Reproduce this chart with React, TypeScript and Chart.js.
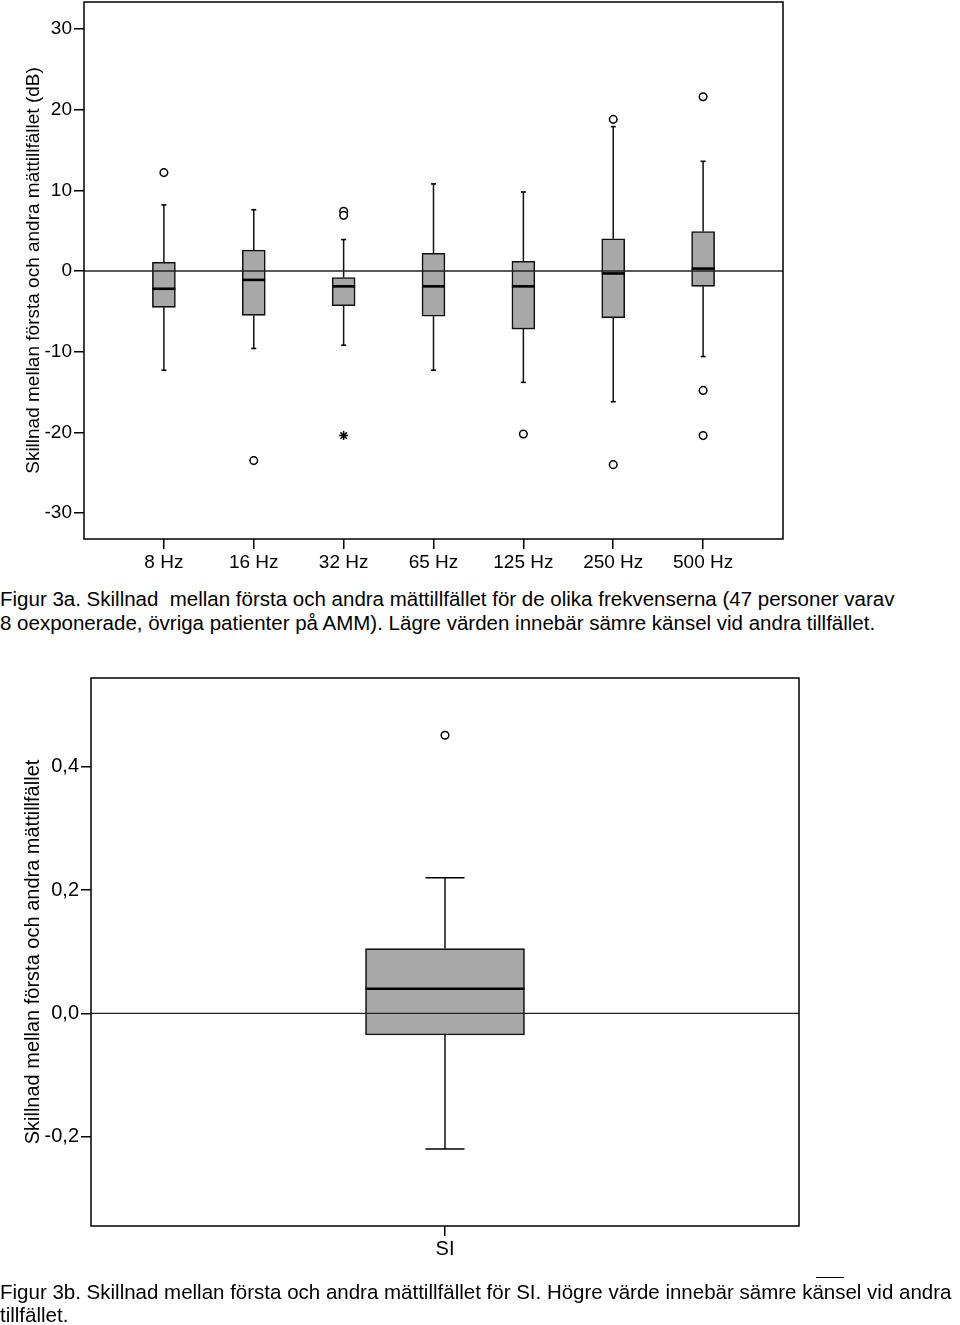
import React, { useEffect, useRef } from "react";
import { Chart, registerables } from "chart.js";

Chart.register(...registerables);

const FONT = '"Liberation Sans", Arial, Helvetica, sans-serif';

// ---------- Figure 3a data ----------
const freqCategories = ["8 Hz", "16 Hz", "32 Hz", "65 Hz", "125 Hz", "250 Hz", "500 Hz"];
const freqWhiskerLow = [-12.3, -9.6, -9.2, -12.3, -13.8, -16.2, -10.6];
const freqQ1 = [-4.5, -5.5, -4.3, -5.6, -7.2, -5.8, -1.9];
const freqMedian = [-2.2, -1.1, -1.9, -1.9, -1.9, -0.3, 0.3];
const freqQ3 = [1.1, 2.6, -0.8, 2.2, 1.2, 4.0, 4.9];
const freqWhiskerHigh = [8.2, 7.6, 3.9, 10.8, 9.8, 17.9, 13.6];
const freqOutlierCat = [0, 1, 2, 2, 4, 5, 5, 6, 6, 6];
const freqOutlierVal = [12.2, -23.5, 7.4, 6.9, -20.2, 18.8, -24.0, 21.6, -14.8, -20.4];
const freqExtremeCat = [2];
const freqExtremeVal = [-20.4];
const freqYTicks = [30, 20, 10, 0, -10, -20, -30];
const freqYTickLabels = ["30", "20", "10", "0", "-10", "-20", "-30"];
const freqYTitle = "Skillnad mellan första och andra mättillfället (dB)";

// ---------- Figure 3b data ----------
const siCategories = ["SI"];
const siWhiskerLow = [-0.22];
const siQ1 = [-0.035];
const siMedian = [0.04];
const siQ3 = [0.105];
const siWhiskerHigh = [0.22];
const siOutlierCat = [0];
const siOutlierVal = [0.451];
const siExtremeCat: number[] = [];
const siExtremeVal: number[] = [];
const siYTicks = [0.4, 0.2, 0, -0.2];
const siYTickLabels = ["0,4", "0,2", "0,0", "-0,2"];
const siYTitle = "Skillnad mellan första och andra mättillfället";

const caption3a1 =
  "Figur 3a. Skillnad\u00a0 mellan första och andra mättillfället för de olika frekvenserna (47 personer varav";
const caption3a2 =
  "8 oexponerade, övriga patienter på AMM). Lägre värden innebär sämre känsel vid andra tillfället.";
const caption3b1 =
  "Figur 3b. Skillnad mellan första och andra mättillfället för SI. Högre värde innebär sämre känsel vid andra";
const caption3b2 = "tillfället.";

type BoxSpec = {
  categories: string[];
  lo: number[];
  q1: number[];
  med: number[];
  q3: number[];
  hi: number[];
  outCat: number[];
  outVal: number[];
  extCat: number[];
  extVal: number[];
  yMin: number;
  yMax: number;
  xPad: number;
  yTicks: number[];
  yTickLabels: string[];
  yTitle: string;
  fontSize: number;
  barThickness: number;
  capRadius: number;
  yAxisWidth: number;
  xAxisHeight: number;
  padding: { left: number; right: number; top: number; bottom: number };
  titlePad: number;
  xLabelPad: number;
};

const framePlugin = {
  id: "frame",
  afterDraw(chart: any) {
    const { ctx, chartArea } = chart;
    ctx.save();
    ctx.strokeStyle = "#000";
    ctx.lineWidth = 1.5;
    ctx.strokeRect(chartArea.left, chartArea.top, chartArea.right - chartArea.left, chartArea.bottom - chartArea.top);
    ctx.restore();
  },
};

function zeroScalePadding(scale: any) {
  scale.paddingTop = 0;
  scale.paddingBottom = 0;
  scale.paddingLeft = 0;
  scale.paddingRight = 0;
}

function buildConfig(s: BoxSpec): any {
  const xMin = -s.xPad;
  const xMax = s.categories.length - 1 + s.xPad;
  const whiskers: any[] = [];
  s.categories.forEach((_, i) => {
    whiskers.push({ x: i, y: s.lo[i] }, { x: i, y: s.q1[i] }, { x: i, y: null });
    whiskers.push({ x: i, y: s.q3[i] }, { x: i, y: s.hi[i] }, { x: i, y: null });
  });
  const caps: any[] = [];
  s.categories.forEach((_, i) => {
    caps.push({ x: i, y: s.lo[i] }, { x: i, y: s.hi[i] });
  });
  return {
    type: "bar",
    data: {
      datasets: [
        {
          type: "scatter",
          data: s.med.map((v, i) => ({ x: i, y: v })),
          pointStyle: "line",
          pointRadius: s.barThickness / 2,
          pointBorderWidth: 2.6,
          pointBorderColor: "#000",
        },
        {
          type: "scatter",
          data: s.outCat.map((c, k) => ({ x: c, y: s.outVal[k] })),
          pointStyle: "circle",
          pointRadius: 3.8,
          pointBorderWidth: 1.5,
          pointBorderColor: "#000",
          pointBackgroundColor: "#fff",
        },
        {
          type: "scatter",
          data: s.extCat.map((c, k) => ({ x: c, y: s.extVal[k] })),
          pointStyle: "star",
          pointRadius: 4.5,
          pointBorderWidth: 1.5,
          pointBorderColor: "#000",
        },
        {
          type: "scatter",
          data: caps,
          pointStyle: "line",
          pointRadius: s.capRadius,
          pointBorderWidth: 1.6,
          pointBorderColor: "#000",
        },
        {
          type: "line",
          data: [
            { x: xMin, y: 0 },
            { x: xMax, y: 0 },
          ],
          borderColor: "#222",
          borderWidth: 1.3,
          pointRadius: 0,
        },
        {
          type: "bar",
          data: s.categories.map((_, i) => ({ x: i, y: [s.q1[i], s.q3[i]] })),
          backgroundColor: "#a8a8a8",
          borderColor: "#111",
          borderWidth: 1.6,
          borderSkipped: false,
          barThickness: s.barThickness,
        },
        {
          type: "line",
          data: whiskers,
          borderColor: "#111",
          borderWidth: 1.5,
          pointRadius: 0,
          spanGaps: false,
        },
      ],
    },
    options: {
      responsive: false,
      animation: false,
      devicePixelRatio: 1,
      events: [],
      layout: { padding: s.padding, autoPadding: false },
      plugins: { legend: { display: false }, tooltip: { enabled: false } },
      scales: {
        x: {
          type: "linear",
          min: xMin,
          max: xMax,
          offset: false,
          afterBuildTicks: (scale: any) => {
            scale.ticks = s.categories.map((_, i) => ({ value: i }));
          },
          afterFit: (scale: any) => {
            scale.height = s.xAxisHeight;
            zeroScalePadding(scale);
          },
          ticks: {
            autoSkip: false,
            maxRotation: 0,
            padding: s.xLabelPad,
            color: "#000",
            font: { family: FONT, size: s.fontSize },
            callback: (v: any) => s.categories[Math.round(Number(v))] ?? "",
          },
          grid: {
            offset: false,
            drawOnChartArea: false,
            drawTicks: true,
            tickLength: 10,
            color: "#000",
            lineWidth: 1.5,
          },
          border: { display: false },
        },
        y: {
          type: "linear",
          min: s.yMin,
          max: s.yMax,
          afterBuildTicks: (scale: any) => {
            scale.ticks = s.yTicks.map((v) => ({ value: v }));
          },
          afterFit: (scale: any) => {
            scale.width = s.yAxisWidth;
            zeroScalePadding(scale);
          },
          ticks: {
            padding: 2,
            color: "#000",
            font: { family: FONT, size: s.fontSize },
            callback: (v: any) => {
              const idx = s.yTicks.findIndex((t) => Math.abs(t - Number(v)) < 1e-9);
              return idx >= 0 ? s.yTickLabels[idx] : "";
            },
          },
          grid: {
            drawOnChartArea: false,
            drawTicks: true,
            tickLength: 10,
            color: "#000",
            lineWidth: 1.5,
          },
          border: { display: false },
          title: {
            display: true,
            text: s.yTitle,
            color: "#000",
            font: { family: FONT, size: s.fontSize },
            padding: { top: s.titlePad, bottom: 0 },
          },
        },
      },
    },
    plugins: [framePlugin],
  };
}

function BoxChart({ spec, width, height, top }: { spec: BoxSpec; width: number; height: number; top: number }) {
  const ref = useRef<HTMLCanvasElement | null>(null);
  useEffect(() => {
    if (!ref.current) return;
    const chart = new Chart(ref.current, buildConfig(spec));
    return () => chart.destroy();
  }, [spec]);
  return (
    <canvas
      ref={ref}
      width={width}
      height={height}
      style={{ position: "absolute", left: 0, top, width, height }}
    />
  );
}

const spec3a: BoxSpec = {
  categories: freqCategories,
  lo: freqWhiskerLow,
  q1: freqQ1,
  med: freqMedian,
  q3: freqQ3,
  hi: freqWhiskerHigh,
  outCat: freqOutlierCat,
  outVal: freqOutlierVal,
  extCat: freqExtremeCat,
  extVal: freqExtremeVal,
  yMin: -33.22,
  yMax: 33.35,
  xPad: 0.889,
  yTicks: freqYTicks,
  yTickLabels: freqYTickLabels,
  yTitle: freqYTitle,
  fontSize: 19,
  barThickness: 23,
  capRadius: 2.5,
  yAxisWidth: 84,
  xAxisHeight: 41,
  padding: { left: 0, right: 177, top: 2, bottom: 0 },
  titlePad: 22,
  xLabelPad: 2,
};

const spec3b: BoxSpec = {
  categories: siCategories,
  lo: siWhiskerLow,
  q1: siQ1,
  med: siMedian,
  q3: siQ3,
  hi: siWhiskerHigh,
  outCat: siOutlierCat,
  outVal: siOutlierVal,
  extCat: siExtremeCat,
  extVal: siExtremeVal,
  yMin: -0.3448,
  yMax: 0.5438,
  xPad: 1,
  yTicks: siYTicks,
  yTickLabels: siYTickLabels,
  yTitle: siYTitle,
  fontSize: 20,
  barThickness: 159,
  capRadius: 19.5,
  yAxisWidth: 91,
  xAxisHeight: 54,
  padding: { left: 0, right: 161, top: 38, bottom: 0 },
  titlePad: 21,
  xLabelPad: 1,
};

const captionStyle: React.CSSProperties = {
  position: "absolute",
  left: 0,
  fontFamily: FONT,
  fontSize: "20.5px",
  color: "#000",
  whiteSpace: "nowrap",
};

export default function App() {
  return (
    <div style={{ position: "relative", width: 960, height: 1325, background: "#fff", overflow: "hidden" }}>
      <style>{`body{margin:0;background:#fff;}`}</style>
      <BoxChart spec={spec3a} width={960} height={580} top={0} />
      <div style={{ ...captionStyle, top: 586.5, lineHeight: "24.5px" }}>
        {caption3a1}
        <br />
        {caption3a2}
      </div>
      <BoxChart spec={spec3b} width={960} height={640} top={640} />
      <div
        style={{
          position: "absolute",
          left: 816,
          top: 1277,
          width: 28,
          height: 0,
          borderTop: "1px solid #000",
        }}
      />
      <div style={{ ...captionStyle, top: 1279.5, lineHeight: "23px" }}>
        {caption3b1}
        <br />
        {caption3b2}
      </div>
    </div>
  );
}
